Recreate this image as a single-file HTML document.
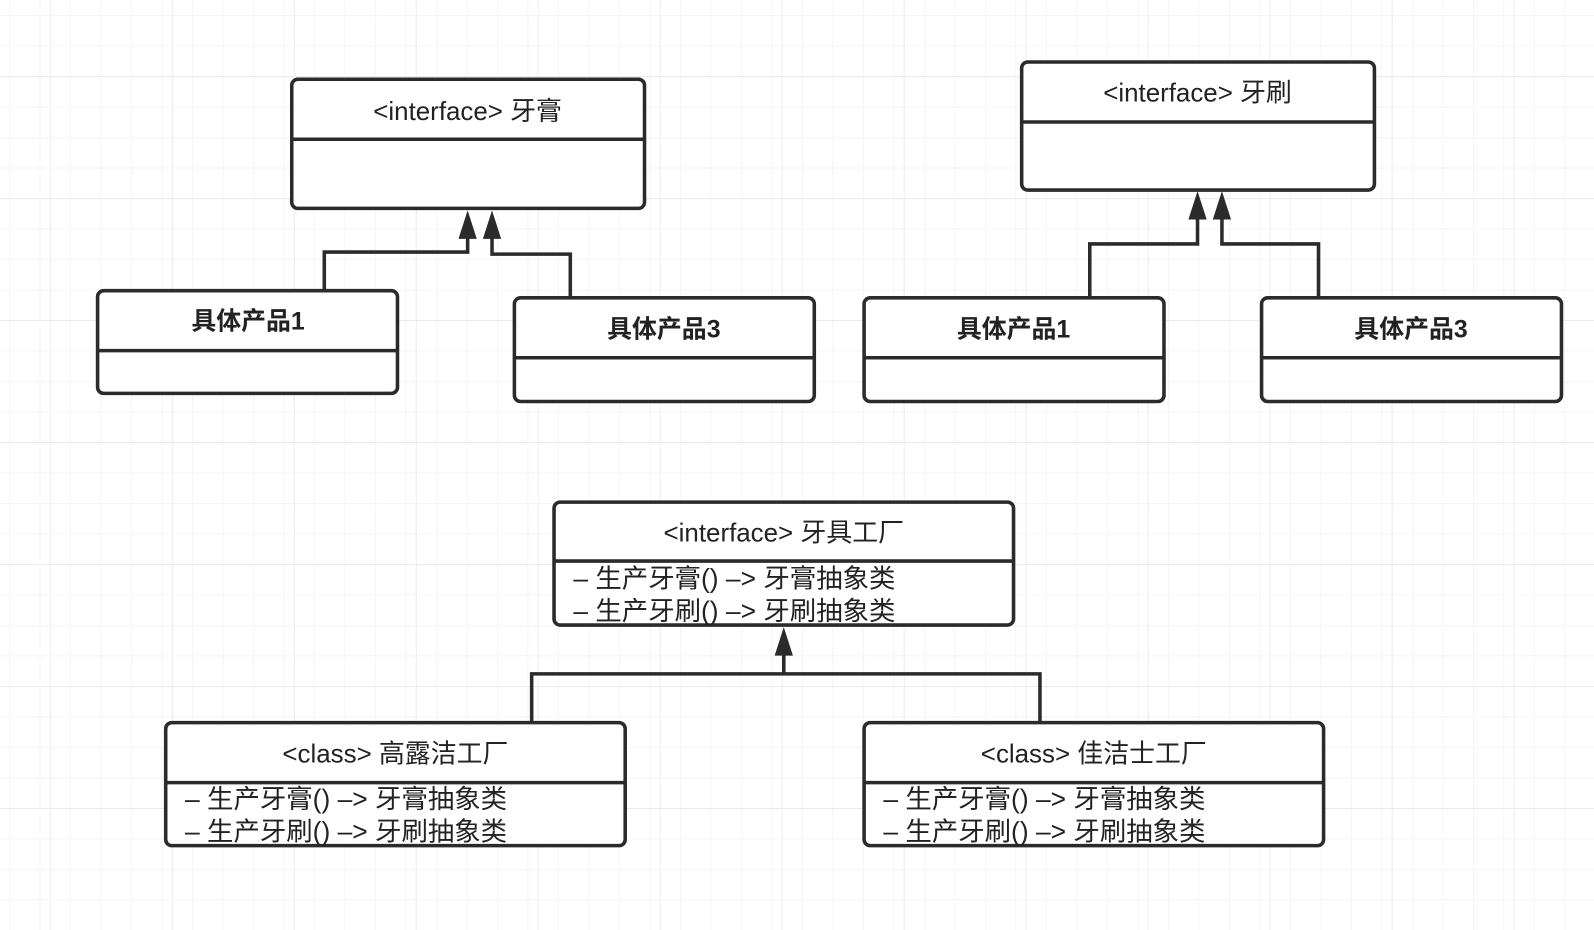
<!DOCTYPE html>
<html><head><meta charset="utf-8"><style>
html,body{margin:0;padding:0;background:#fff;}
svg{display:block;}
text{font-family:"Liberation Sans","Noto Sans CJK SC",sans-serif;fill:#222;}
</style></head><body>
<svg width="1594" height="930" viewBox="0 0 1568 915" preserveAspectRatio="none" xmlns="http://www.w3.org/2000/svg">
<defs>
<pattern id="g" width="30" height="30" patternUnits="userSpaceOnUse" x="9" y="15">
<path d="M0 0H30M0 0V30" stroke="#f0f0f0" stroke-width="1.3" fill="none"/>
</pattern>
<pattern id="g2" width="120" height="120" patternUnits="userSpaceOnUse" x="49" y="75">
<path d="M0 0H120M0 0V120" stroke="#e8e8e8" stroke-width="1.6" fill="none"/>
</pattern>
</defs>
<rect width="1568" height="915" fill="#fff"/>
<rect width="1568" height="915" fill="url(#g)"/>
<rect width="1568" height="915" fill="url(#g2)"/>

<g fill="#fff" stroke="#2b2b2b" stroke-width="3.5">
<rect x="287" y="78" width="347" height="127" rx="6"/>
<line x1="287" y1="137" x2="634" y2="137"/>
<rect x="1005" y="61" width="347" height="126" rx="6"/>
<line x1="1005" y1="120" x2="1352" y2="120"/>
<rect x="96" y="286" width="295" height="101" rx="6"/>
<line x1="96" y1="345" x2="391" y2="345"/>
<rect x="506" y="293" width="295" height="102" rx="6"/>
<line x1="506" y1="352" x2="801" y2="352"/>
<rect x="850" y="293" width="295" height="102" rx="6"/>
<line x1="850" y1="352" x2="1145" y2="352"/>
<rect x="1241" y="293" width="295" height="102" rx="6"/>
<line x1="1241" y1="352" x2="1536" y2="352"/>
<rect x="545" y="494" width="452" height="121" rx="6"/>
<line x1="545" y1="552" x2="997" y2="552"/>
<rect x="163" y="711" width="452" height="121" rx="6"/>
<line x1="163" y1="770" x2="615" y2="770"/>
<rect x="850" y="711" width="452" height="121" rx="6"/>
<line x1="850" y1="770" x2="1302" y2="770"/>
</g>

<g fill="none" stroke="#2b2b2b" stroke-width="3.5">
<polyline points="319,286 319,248 460,248 460,232"/>
<polyline points="561,293 561,250 484,250 484,232"/>
<polyline points="1072,293 1072,240 1178,240 1178,213"/>
<polyline points="1297,293 1297,240 1202,240 1202,213"/>
<polyline points="523,711 523,663 1023,663 1023,711"/>
<line x1="771" y1="663" x2="771" y2="643"/>
</g>
<g fill="#2b2b2b">
<polygon points="460,207 451,235 469,235"/>
<polygon points="484,207 475,235 493,235"/>
<polygon points="1178,188 1169,216 1187,216"/>
<polygon points="1202,188 1193,216 1211,216"/>
<polygon points="771,617 762,645 780,645"/>
</g>

<g font-size="25.5" text-anchor="middle">
<text x="460" y="118">&lt;interface&gt; 牙膏</text>
<text x="1178" y="100">&lt;interface&gt; 牙刷</text>
<text x="771" y="533">&lt;interface&gt; 牙具工厂</text>
<text x="389" y="750">&lt;class&gt; 高露洁工厂</text>
<text x="1076" y="750">&lt;class&gt; 佳洁士工厂</text>
</g>
<g font-size="24.5" text-anchor="middle" font-weight="bold">
<text x="244" y="324">具体产品1</text>
<text x="653" y="332">具体产品3</text>
<text x="997" y="332">具体产品1</text>
<text x="1388" y="332">具体产品3</text>
</g>
<g font-size="26">
<text x="564" y="578">– 生产牙膏() –&gt; 牙膏抽象类</text>
<text x="564" y="610">– 生产牙刷() –&gt; 牙刷抽象类</text>
<text x="182" y="795">– 生产牙膏() –&gt; 牙膏抽象类</text>
<text x="182" y="827">– 生产牙刷() –&gt; 牙刷抽象类</text>
<text x="869" y="795">– 生产牙膏() –&gt; 牙膏抽象类</text>
<text x="869" y="827">– 生产牙刷() –&gt; 牙刷抽象类</text>
</g>
</svg>
</body></html>
